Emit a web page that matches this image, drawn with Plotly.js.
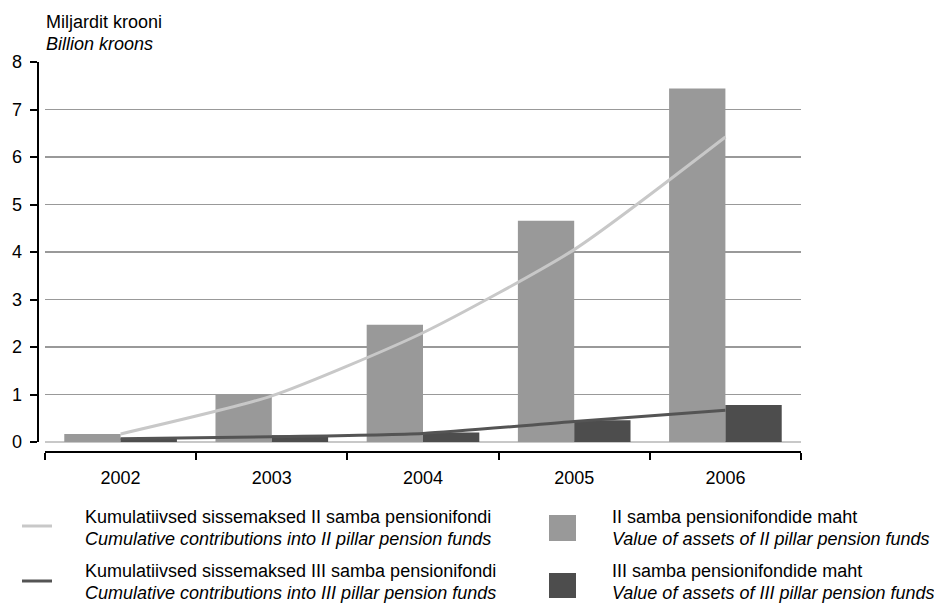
<!DOCTYPE html>
<html>
<head>
<meta charset="utf-8">
<script src="https://cdn.plot.ly/plotly-3.0.1.min.js"></script>
<style>
  html, body { margin: 0; padding: 0; background: #ffffff; }
  #chart { width: 934px; height: 605px; }
</style>
</head>
<body>
<div id="chart"></div>
<script>
// ---- data ----
var years = ['2002', '2003', '2004', '2005', '2006'];
var assetsII = [0.17, 1.01, 2.47, 4.66, 7.44];
var assetsIII = [0.08, 0.14, 0.20, 0.46, 0.78];
var contribII = [0.17, 0.97, 2.30, 4.05, 6.42];
var contribIII = [0.07, 0.11, 0.18, 0.43, 0.67];
var yTicks = [0, 1, 2, 3, 4, 5, 6, 7, 8];

var legendLabels = [
  ['Kumulatiivsed sissemaksed II samba pensionifondi', 'Cumulative contributions into II pillar pension funds'],
  ['Kumulatiivsed sissemaksed III samba pensionifondi', 'Cumulative contributions into III pillar pension funds'],
  ['II samba pensionifondide maht', 'Value of assets of II pillar pension funds'],
  ['III samba pensionifondide maht', 'Value of assets of III pillar pension funds']
];
var unitLabel = ['Miljardit krooni', 'Billion kroons'];

// ---- styling ----
var W = 934, H = 605;
var FONT = 'Liberation Sans, Arial, sans-serif';
var colBarII = '#999999', colBarIII = '#4d4d4d';
var colLineII = '#c8c8c8', colLineIII = '#545454';

function px(x) { return x / W; }
function py(y) { return 1 - y / H; }

var traces = [
  { type: 'bar', x: years, y: assetsII, marker: { color: colBarII }, showlegend: false, hoverinfo: 'skip' },
  { type: 'bar', x: years, y: assetsIII, marker: { color: colBarIII }, showlegend: false, hoverinfo: 'skip' },
  { type: 'scatter', mode: 'lines', x: years, y: contribII,
    line: { color: colLineII, width: 3, shape: 'spline', smoothing: 0.6 }, showlegend: false, hoverinfo: 'skip' },
  { type: 'scatter', mode: 'lines', x: years, y: contribIII,
    line: { color: colLineIII, width: 3, shape: 'spline', smoothing: 0.6 }, showlegend: false, hoverinfo: 'skip' }
];

var shapes = [
  // legend line symbols
  { type: 'line', xref: 'paper', yref: 'paper', x0: px(22), x1: px(52), y0: py(526), y1: py(526),
    line: { color: colLineII, width: 3 } },
  { type: 'line', xref: 'paper', yref: 'paper', x0: px(22), x1: px(52), y0: py(581), y1: py(581),
    line: { color: colLineIII, width: 3 } },
  // legend squares
  { type: 'rect', xref: 'paper', yref: 'paper', x0: px(549), x1: px(576), y0: py(515), y1: py(541),
    fillcolor: colBarII, line: { width: 0 } },
  { type: 'rect', xref: 'paper', yref: 'paper', x0: px(549), x1: px(576), y0: py(573), y1: py(598),
    fillcolor: colBarIII, line: { width: 0 } }
];

function textAnn(txt, x, baseline, italic) {
  return {
    xref: 'paper', yref: 'paper', x: px(x), y: py(baseline - 6.3),
    xanchor: 'left', yanchor: 'middle', showarrow: false, align: 'left',
    text: italic ? '<i>' + txt + '</i>' : txt,
    font: { family: FONT, size: 18, color: '#000000' }, borderpad: 0
  };
}

var annotations = [
  textAnn(unitLabel[0], 45, 28.3, false),
  textAnn(unitLabel[1], 45, 50, true),
  textAnn(legendLabels[0][0], 84, 523, false),
  textAnn(legendLabels[0][1], 84, 545, true),
  textAnn(legendLabels[1][0], 84, 577, false),
  textAnn(legendLabels[1][1], 84, 599, true),
  textAnn(legendLabels[2][0], 611, 523, false),
  textAnn(legendLabels[2][1], 611, 545, true),
  textAnn(legendLabels[3][0], 611, 577, false),
  textAnn(legendLabels[3][1], 611, 599, true)
];

var layout = {
  width: W, height: H,
  margin: { l: 0, r: 0, t: 0, b: 0 },
  paper_bgcolor: '#ffffff', plot_bgcolor: '#ffffff',
  font: { family: FONT, size: 18, color: '#000000' },
  showlegend: false,
  barmode: 'group', bargap: 0.255, bargroupgap: 0,
  xaxis: {
    type: 'category', domain: [px(45), px(801)], range: [-0.5, 4.5],
    anchor: 'free', position: py(451.5),
    showline: true, linecolor: '#000000', linewidth: 2,
    ticks: 'outside', tickson: 'boundaries', ticklen: 7, tickwidth: 2, tickcolor: '#000000',
    showgrid: false, zeroline: false,
    ticklabelstandoff: 10,
    tickfont: { family: FONT, size: 18, color: '#000000' }
  },
  yaxis: {
    domain: [py(442), py(62)], range: [0, 8],
    anchor: 'free', position: px(37.7),
    tickvals: yTicks, ticktext: yTicks.map(String),
    showline: true, linecolor: '#000000', linewidth: 2,
    ticks: 'outside', ticklen: 7, tickwidth: 2, tickcolor: '#000000',
    showgrid: true, gridcolor: '#999999', gridwidth: 1.5,
    zeroline: true, zerolinecolor: '#c8c8c8', zerolinewidth: 1.5,
    ticklabelstandoff: 4,
    tickfont: { family: FONT, size: 18, color: '#000000' }
  },
  shapes: shapes,
  annotations: annotations
};

Plotly.newPlot('chart', traces, layout, { staticPlot: true, displayModeBar: false });
</script>
</body>
</html>
